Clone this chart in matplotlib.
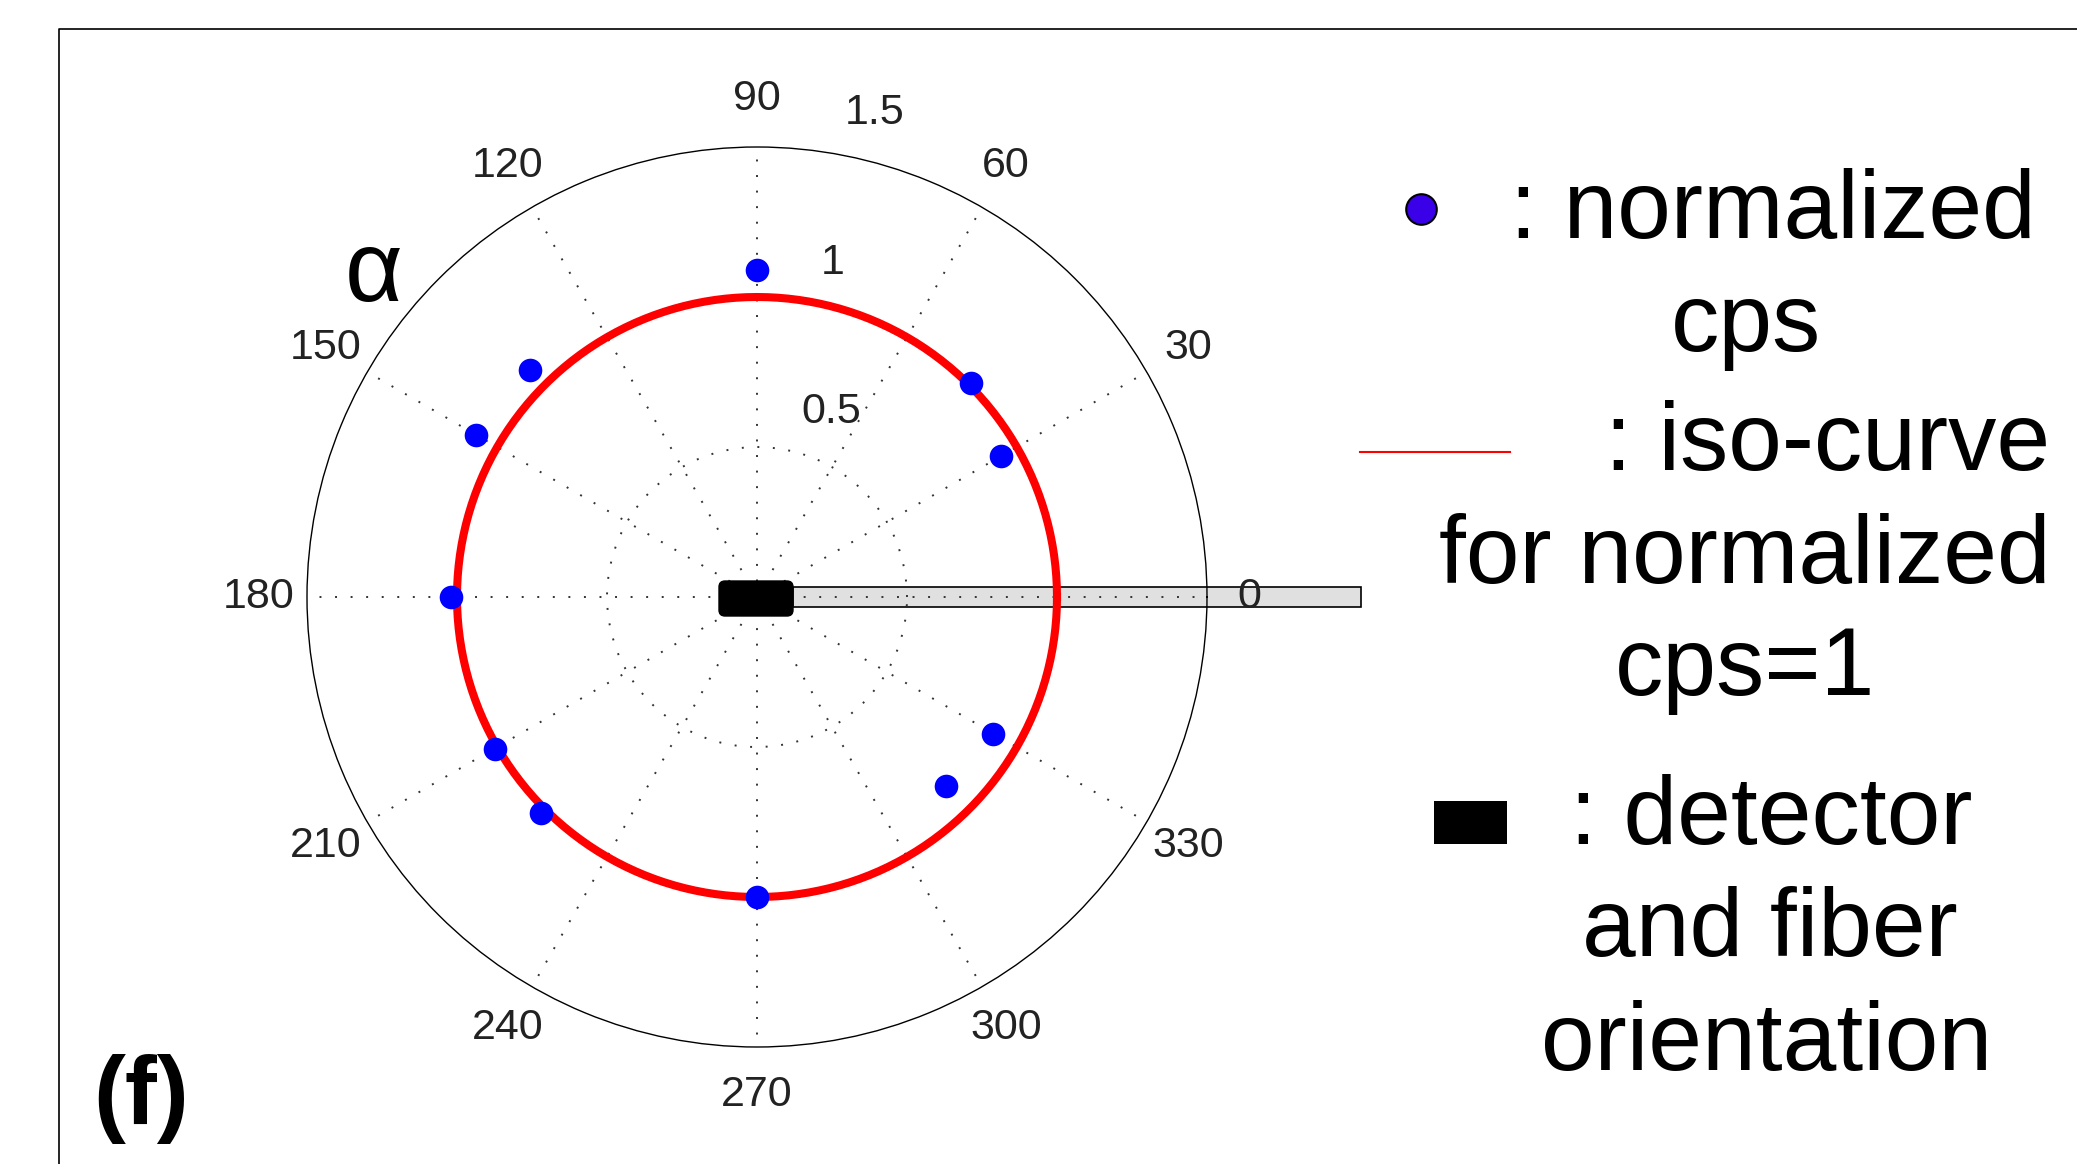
import numpy as np
import matplotlib
matplotlib.use("Agg")
import matplotlib.pyplot as plt
from matplotlib.patches import Rectangle, FancyBboxPatch

plt.rcParams['font.family'] = ['Liberation Sans', 'DejaVu Sans']

# measured data: angle (deg) and normalized cps
angles_deg = [30, 45, 90, 135, 150, 180, 210, 225, 270, 315, 330]
norm_cps = [0.94, 1.01, 1.09, 1.07, 1.08, 1.02, 1.01, 1.02, 1.00, 0.89, 0.91]
iso_level = 1.0

theta_ticks = list(range(0, 360, 30))
r_ticks = [0.5, 1.0]
r_max = 1.5

W, H = 2077, 1164
fig = plt.figure(figsize=(W / 100, H / 100), dpi=100, facecolor='white')

# pixel-coordinate overlays (one below the polar axes, one above)
under = fig.add_axes([0, 0, 1, 1], zorder=0)
under.set_xlim(0, W)
under.set_ylim(H, 0)
under.axis('off')

over = fig.add_axes([0, 0, 1, 1], zorder=2)
over.set_xlim(0, W)
over.set_ylim(H, 0)
over.axis('off')

# panel frame (only left and top edges are visible)
under.plot([59, 59, W + 10], [H + 10, 29, 29], color='black', lw=1.2, clip_on=False)

# fiber
under.add_patch(Rectangle((793, 587), 568, 20, facecolor='#e0e0e0',
                          edgecolor='black', lw=1.2))

# polar axes
cx, cy, rad = 757, 597, 450
ax = fig.add_axes([(cx - rad) / W, (H - cy - rad) / H, 2 * rad / W, 2 * rad / H],
                  projection='polar', zorder=1)
ax.set_facecolor('none')
ax.set_ylim(0, r_max)
ax.set_thetagrids(theta_ticks, labels=[''] * len(theta_ticks))
ax.set_rgrids(r_ticks, labels=[''] * len(r_ticks))
ax.tick_params(length=0)
ax.grid(True, linestyle=(0, (1, 7)), color='#333333', lw=1.4)
ax.spines['polar'].set_color('black')
ax.spines['polar'].set_linewidth(1.0)

th = np.linspace(0, 2 * np.pi, 361)
ax.plot(th, np.full_like(th, iso_level), color='red', lw=5.8, zorder=3)
ax.plot(np.deg2rad(angles_deg), norm_cps, 'o', color='blue', ms=17, mec='none', zorder=4)

for a in theta_ticks:
    rr = 1.64 if a == 0 else 1.66
    ax.text(np.deg2rad(a), rr, str(a), ha='center', va='center', fontsize=31,
            color='#222222', clip_on=False)

for lab, a, rr in [('0.5', 68.2, 0.664), ('1', 77.3, 1.141), ('1.5', 76.3, 1.662)]:
    ax.text(np.deg2rad(a), rr, lab, ha='center', va='center', fontsize=31,
            color='#222222', clip_on=False)

# detector
over.add_patch(FancyBboxPatch((723, 585), 66, 27, boxstyle='round,pad=4,rounding_size=6',
                              facecolor='black', edgecolor='black'))

over.text(374, 275, 'α', fontsize=72, ha='center', va='center')
over.text(141, 1099, '(f)', fontsize=69, fontweight='bold', ha='center', va='center')

# hand-made legend
fs = 69.5
over.plot([1421], [209], 'o', ms=22, color='#3a00e8', mec='black', mew=1.5)
over.text(1510, 238, ': normalized', fontsize=fs, ha='left', va='baseline')
over.text(1746, 351, 'cps', fontsize=fs, ha='center', va='baseline')
over.plot([1360, 1510], [452, 452], color='red', lw=1.5)
over.text(1605, 470, ': iso-curve', fontsize=fs, ha='left', va='baseline')
over.text(1745, 583, 'for normalized', fontsize=fs, ha='center', va='baseline')
over.text(1745, 695, 'cps=1', fontsize=fs, ha='center', va='baseline')
over.add_patch(Rectangle((1434, 801), 73, 43, facecolor='black'))
over.text(1570, 844, ': detector', fontsize=fs, ha='left', va='baseline')
over.text(1770, 956, 'and fiber', fontsize=fs, ha='center', va='baseline')
over.text(1767, 1070, 'orientation', fontsize=fs, ha='center', va='baseline')

fig.savefig('out.png', dpi=100)
